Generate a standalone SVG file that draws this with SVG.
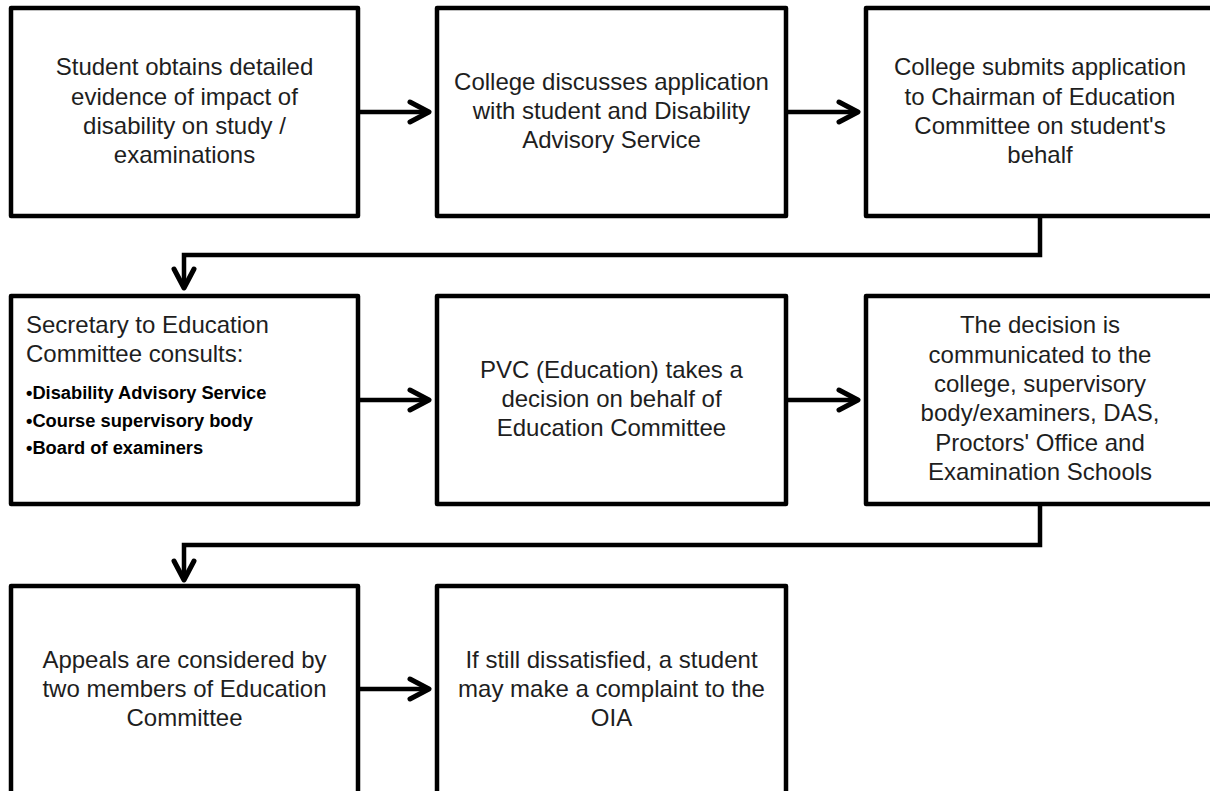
<svg xmlns="http://www.w3.org/2000/svg" width="1210" height="791" viewBox="0 0 1210 791">
<defs>
<style>
.box{fill:#ffffff;stroke:#000000;stroke-width:4.5;stroke-linejoin:round}
.t{font-family:"Liberation Sans",Arial,sans-serif;font-size:24px;fill:#1e1e1e;text-anchor:middle}
.tl{font-family:"Liberation Sans",Arial,sans-serif;font-size:24px;fill:#1e1e1e}
.b{font-family:"Liberation Sans",Arial,sans-serif;font-size:18.3px;font-weight:bold;fill:#000000}
.line{fill:none;stroke:#000000;stroke-width:4.5;stroke-linejoin:miter}
.head{fill:none;stroke:#000000;stroke-width:5;stroke-linecap:round;stroke-linejoin:round}
</style>
</defs>
<rect width="1210" height="791" fill="#ffffff"/>
<g id="connectors">
<path class="line" d="M360 112 H427"/>
<path class="head" d="M410 102 L429 112 L410 122"/>
<path class="line" d="M788 112 H856"/>
<path class="head" d="M839 102 L858 112 L839 122"/>
<path class="line" d="M1040 218 V255 H184 V286"/>
<path class="head" d="M174 269 L184 288 L194 269"/>
<path class="line" d="M360 400 H427"/>
<path class="head" d="M410 390 L429 400 L410 410"/>
<path class="line" d="M788 400 H856"/>
<path class="head" d="M839 390 L858 400 L839 410"/>
<path class="line" d="M1040 506 V545 H184 V578"/>
<path class="head" d="M174 561 L184 580 L194 561"/>
<path class="line" d="M360 689 H427"/>
<path class="head" d="M410 679 L429 689 L410 699"/>
</g>
<g id="node1">
<rect class="box" x="11" y="8" width="347" height="208"/>
<text class="t" x="184.5" y="75">Student obtains detailed</text>
<text class="t" x="184.5" y="104.5">evidence of impact of</text>
<text class="t" x="184.5" y="134">disability on study /</text>
<text class="t" x="184.5" y="163">examinations</text>
</g>
<g id="node2">
<rect class="box" x="437" y="8" width="349" height="208"/>
<text class="t" x="611.5" y="90">College discusses application</text>
<text class="t" x="611.5" y="119">with student and Disability</text>
<text class="t" x="611.5" y="148">Advisory Service</text>
</g>
<g id="node3">
<rect class="box" x="866" y="8" width="348" height="208"/>
<text class="t" x="1040" y="75">College submits application</text>
<text class="t" x="1040" y="104.5">to Chairman of Education</text>
<text class="t" x="1040" y="134">Committee on student's</text>
<text class="t" x="1040" y="163">behalf</text>
</g>
<g id="node4">
<rect class="box" x="11" y="296" width="347" height="208"/>
<text class="tl" x="26" y="333">Secretary to Education</text>
<text class="tl" x="26" y="362">Committee consults:</text>
<text class="b" x="26" y="399">•Disability Advisory Service</text>
<text class="b" x="26" y="427">•Course supervisory body</text>
<text class="b" x="26" y="454">•Board of examiners</text>
</g>
<g id="node5">
<rect class="box" x="437" y="296" width="349" height="208"/>
<text class="t" x="611.5" y="378">PVC (Education) takes a</text>
<text class="t" x="611.5" y="407">decision on behalf of</text>
<text class="t" x="611.5" y="436">Education Committee</text>
</g>
<g id="node6">
<rect class="box" x="866" y="296" width="348" height="208"/>
<text class="t" x="1040" y="333">The decision is</text>
<text class="t" x="1040" y="363">communicated to the</text>
<text class="t" x="1040" y="392">college, supervisory</text>
<text class="t" x="1040" y="421">body/examiners, DAS,</text>
<text class="t" x="1040" y="451">Proctors' Office and</text>
<text class="t" x="1040" y="480">Examination Schools</text>
</g>
<g id="node7">
<rect class="box" x="11" y="586" width="347" height="212"/>
<text class="t" x="184.5" y="668">Appeals are considered by</text>
<text class="t" x="184.5" y="697">two members of Education</text>
<text class="t" x="184.5" y="726">Committee</text>
</g>
<g id="node8">
<rect class="box" x="437" y="586" width="349" height="212"/>
<text class="t" x="611.5" y="668">If still dissatisfied, a student</text>
<text class="t" x="611.5" y="697">may make a complaint to the</text>
<text class="t" x="611.5" y="726">OIA</text>
</g>
</svg>
